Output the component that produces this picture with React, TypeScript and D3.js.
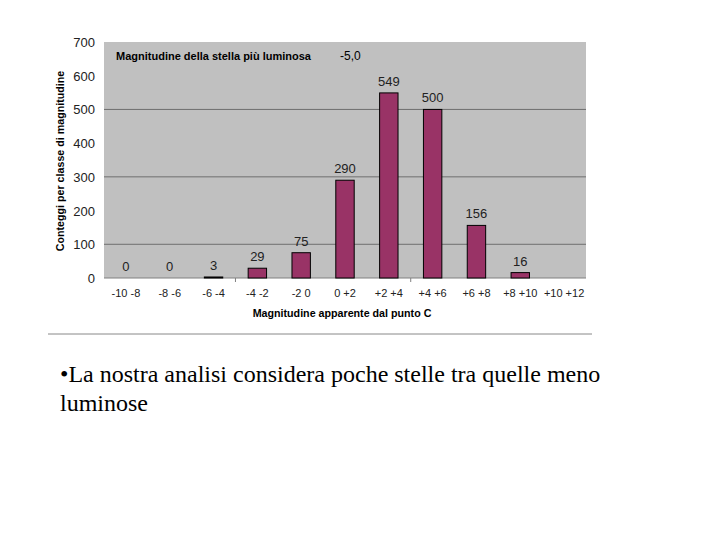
import * as d3 from 'd3'

const categories = ['-10 -8', '-8 -6', '-6 -4', '-4 -2', '-2 0', '0 +2', '+2 +4', '+4 +6', '+6 +8', '+8 +10', '+10 +12']
const counts = [0, 0, 3, 29, 75, 290, 549, 500, 156, 16, null]
const yTicks = [0, 100, 200, 300, 400, 500, 600, 700]
const gridValues = [100, 300, 500]

const App = () => {
  const left = 104, right = 586, top = 42, bottom = 278

  const x = d3.scaleBand<string>().domain(categories).range([left, right]).paddingInner(0.58).paddingOuter(0.29)
  const y = d3.scaleLinear().domain([0, 700]).range([bottom, top])
  const step = x.step()
  const font = 'Arial, "Liberation Sans", sans-serif'
  const serif = '"Liberation Serif", "Times New Roman", serif'

  return (
    <svg width={720} height={540} style={{position: 'absolute', left: 0, top: 0}}>
      <rect x={0} y={0} width={720} height={540} fill="white" />
      <rect x={left} y={top} width={right - left} height={bottom - top} fill="#c0c0c0" />
      {gridValues.map(v => (
        <line key={v} x1={left} x2={right} y1={y(v)} y2={y(v)} stroke="#6e6e6e" strokeWidth={1} />
      ))}
      <line x1={left} x2={right} y1={bottom} y2={bottom} stroke="#808080" />
      {[3, 7].map(i => (
        <line key={i} x1={left + i * step} x2={left + i * step} y1={bottom} y2={bottom + 4} stroke="#808080" />
      ))}
      {categories.map((c, i) => {
        const v = counts[i]
        if (v === null) return null
        const bx = x(c)!
        return (
          <g key={c}>
            {v > 0 && (
              <rect x={bx} y={y(v)} width={x.bandwidth()} height={bottom - y(v)} fill="#993366" stroke="black" strokeWidth={1} />
            )}
            <text x={bx + x.bandwidth() / 2} y={y(v) - 7} textAnchor="middle" fontSize={13} fontFamily={font} fill="#222">{v}</text>
          </g>
        )
      })}
      {yTicks.map(t => (
        <text key={t} x={95} y={y(t) + 5} textAnchor="end" fontSize={13} fontFamily={font} fill="#222">{t}</text>
      ))}
      {categories.map(c => (
        <text key={c} x={x(c)! + x.bandwidth() / 2} y={297} textAnchor="middle" fontSize={11} fontFamily={font} fill="#222">{c}</text>
      ))}
      <text x={342} y={317} textAnchor="middle" fontSize={10.7} fontWeight="bold" fontFamily={font}>Magnitudine apparente dal punto C</text>
      <text transform="translate(64,161) rotate(-90)" textAnchor="middle" fontSize={10.7} fontWeight="bold" fontFamily={font}>Conteggi per classe di magnitudine</text>
      <text x={116} y={60} fontSize={11} fontWeight="bold" fontFamily={font}>Magnitudine della stella più luminosa</text>
      <text x={340} y={60} fontSize={12} fontFamily={font}>-5,0</text>
      <line x1={48} x2={592} y1={334} y2={334} stroke="#888" strokeWidth={1} />
      <text x={60} y={382} fontSize={24} fontFamily={serif}>•La nostra analisi considera poche stelle tra quelle meno</text>
      <text x={60} y={411} fontSize={24} fontFamily={serif}>luminose</text>
    </svg>
  )
}

export default App
